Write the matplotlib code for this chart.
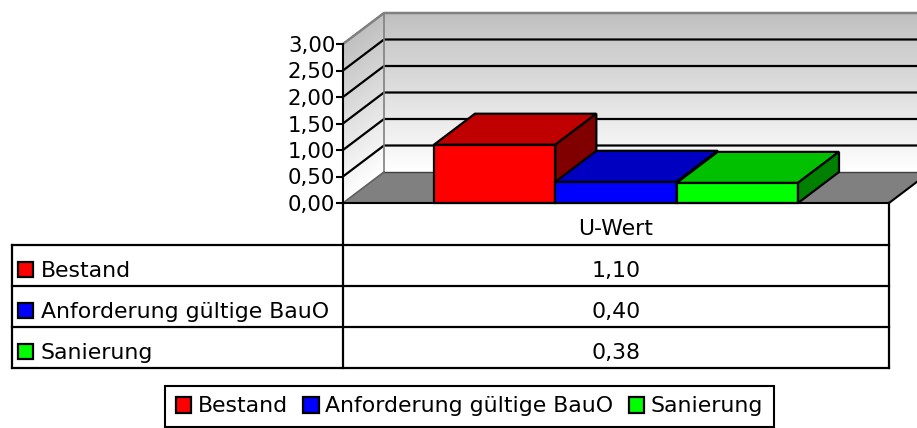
import numpy as np
import matplotlib
matplotlib.use("Agg")
import matplotlib.pyplot as plt
from matplotlib.patches import Polygon, Rectangle, Patch
from matplotlib.lines import Line2D
from matplotlib.collections import PolyCollection
from matplotlib.colors import LinearSegmentedColormap

# ---- data ----
category = "U-Wert"
series = ["Bestand", "Anforderung gültige BauO", "Sanierung"]
values = [1.10, 0.40, 0.38]
front_colors = ["#ff0000", "#0000ff", "#00ff00"]
top_colors = ["#c00000", "#0000c0", "#00c000"]
side_colors = ["#800000", "#000080", "#008000"]
yticks = [0.0, 0.5, 1.0, 1.5, 2.0, 2.5, 3.0]

W, H = 917, 428
plt.rcParams['font.family'] = ['DejaVu Sans']
fig = plt.figure(figsize=(W / 100, H / 100), dpi=100)

def fx(x):
    return x / W

def fy(y):
    return 1 - y / H

# front plane of the plot area in pixels
PL, PR, PT, PB = 343, 889, 44, 203
ax = fig.add_axes([fx(PL), fy(PB), (PR - PL) / W, (PB - PT) / H])
ax.set_xlim(-0.5, 0.5)
ax.set_ylim(0, 3)
ax.patch.set_alpha(0)

ppx = (PR - PL) / 1.0
ppy = (PB - PT) / 3.0
ddx = 41 / ppx
ddy = 31 / ppy
ymax = yticks[-1]

# gradient walls (strips)
cmap = LinearSegmentedColormap.from_list("wall", ["#ffffff", "#c0c0c0"])
nstr = 160
edges = np.linspace(0, ymax, nstr + 1)
back_polys, left_polys, cols = [], [], []
for a, b in zip(edges[:-1], edges[1:]):
    back_polys.append([(-0.5 + ddx, a + ddy), (0.6 + ddx, a + ddy), (0.6 + ddx, b + ddy),
                       (-0.5 + ddx, b + ddy)])
    left_polys.append([(-0.5, a), (-0.5 + ddx, a + ddy), (-0.5 + ddx, b + ddy), (-0.5, b)])
    cols.append(cmap((a + b) / 2 / ymax))
for polys in (back_polys, left_polys):
    pc = PolyCollection(polys, facecolors=cols, edgecolors=cols, linewidths=0.6,
                        antialiaseds=False, zorder=0, clip_on=False)
    ax.add_collection(pc)

# floor
ax.add_patch(Polygon([(-0.5, 0), (0.5, 0), (0.5 + ddx, ddy), (-0.5 + ddx, ddy)], closed=True,
                     facecolor="#808080", edgecolor="none", zorder=1, clip_on=False))
ax.plot([-0.5 + ddx, 0.6 + ddx], [ddy, ddy], color="#404040", lw=1.0, zorder=1.5, clip_on=False)
ax.plot([0.5, 0.5 + ddx], [0, ddy], color="black", lw=1.5, zorder=1.5, clip_on=False)
ax.plot([-0.5, -0.5 + ddx], [0, ddy], color="#606060", lw=1.2, zorder=1.5, clip_on=False)

# gridlines
for v in yticks[1:-1]:
    ax.plot([-0.5, -0.5 + ddx, 0.6 + ddx], [v, v + ddy, v + ddy], color="black", lw=1.6,
            zorder=1.2, clip_on=False, solid_capstyle="butt")
# wall borders
ax.plot([-0.5, -0.5 + ddx, 0.6 + ddx], [ymax, ymax + ddy, ymax + ddy], color="#808080", lw=1.8,
        zorder=1.3, clip_on=False)
ax.plot([-0.5 + ddx, -0.5 + ddx], [ddy, ymax + ddy], color="#808080", lw=1.2, zorder=1.3,
        clip_on=False)

# bars
n = len(values)
w = 1.0 / (n + 1.5)
for i, (v, fc, tc, sc) in enumerate(zip(values, front_colors, top_colors, side_colors)):
    x0 = -n * w / 2 + i * w
    x1 = x0 + w
    z = 3 + i
    ax.add_patch(Rectangle((x0, 0), w, v, facecolor=fc, edgecolor="black", lw=1.6,
                           zorder=z, clip_on=False, joinstyle="miter"))
    ax.add_patch(Polygon([(x0, v), (x1, v), (x1 + ddx, v + ddy), (x0 + ddx, v + ddy)], closed=True,
                         facecolor=tc, edgecolor="black", lw=1.6, zorder=z, clip_on=False,
                         joinstyle="miter"))
    ax.add_patch(Polygon([(x1, 0), (x1 + ddx, ddy), (x1 + ddx, v + ddy), (x1, v)], closed=True,
                         facecolor=sc, edgecolor="black", lw=1.6, zorder=z, clip_on=False,
                         joinstyle="miter"))

# axes styling
for s in ["top", "right"]:
    ax.spines[s].set_visible(False)
ax.spines["left"].set_linewidth(1.5)
ax.spines["bottom"].set_linewidth(1.5)
ax.spines["left"].set_zorder(10)
ax.spines["bottom"].set_zorder(10)
ax.set_xticks([])
ax.set_yticks(yticks)
ax.set_yticklabels([f"{t:.2f}".replace(".", ",") for t in yticks], fontsize=15.3)
ax.tick_params(axis="y", direction="out", length=5, width=1.5, pad=0.5, colors="black")

# data table
lw_t = 1.6
def hline(y, x0, x1):
    fig.add_artist(Line2D([fx(x0), fx(x1)], [fy(y), fy(y)], color="black", lw=lw_t,
                          solid_capstyle="projecting"))
def vline(x, y0, y1):
    fig.add_artist(Line2D([fx(x), fx(x)], [fy(y0), fy(y1)], color="black", lw=lw_t,
                          solid_capstyle="projecting"))

TL = 12
rows = [245, 286, 327, 368]
for y in rows:
    hline(y, TL, PR)
vline(TL, rows[0], rows[-1])
vline(PL, PB, rows[-1])
vline(PR, PB, rows[-1])

cx = (PL + PR) / 2
fig.text(fx(cx), fy(rows[0] - 10), category, ha="center", va="baseline", fontsize=15.8)
for i, (name, v, fc) in enumerate(zip(series, values, front_colors)):
    base = rows[i + 1] - 9
    fig.text(fx(41), fy(base), name, ha="left", va="baseline", fontsize=15.8)
    fig.text(fx(cx), fy(base), f"{v:.2f}".replace(".", ","), ha="center", va="baseline",
             fontsize=15.8)
    fig.add_artist(Rectangle((fx(18), fy(base)), 15 / W, 15 / H, facecolor=fc,
                             edgecolor="black", lw=1.6, transform=fig.transFigure))

# legend
handles = [Patch(facecolor=c, edgecolor="black", lw=1.6) for c in front_colors]
leg = fig.legend(handles, series, loc="center", bbox_to_anchor=(fx(469.5), fy(406.5)), ncol=3,
                 frameon=True, fancybox=False, edgecolor="black", framealpha=1,
                 handlelength=0.7, handleheight=0.7, handletextpad=0.3, columnspacing=0.7,
                 borderpad=0.5, fontsize=15.8, borderaxespad=0)
leg.get_frame().set_linewidth(1.5)

fig.savefig("out.png", dpi=100)
